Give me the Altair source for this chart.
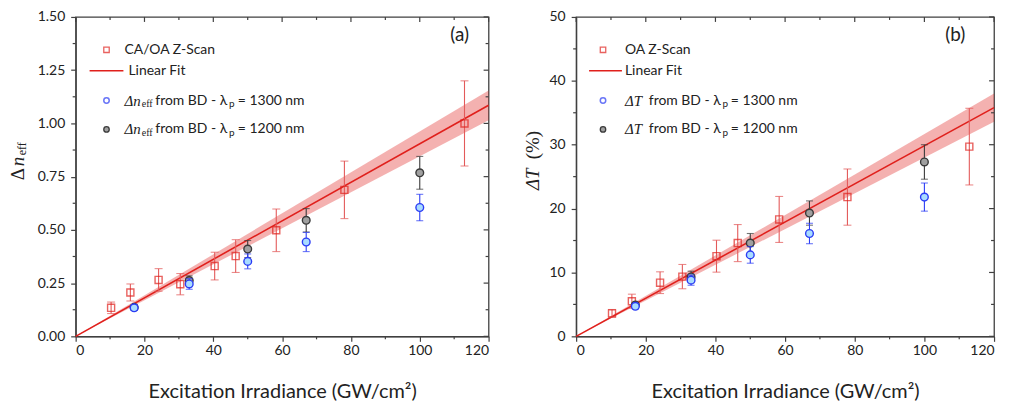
import altair as alt
import pandas as pd

# ---------------- data: panel (a) ----------------
a_zs_x = [10.3, 15.9, 24.1, 30.4, 40.4, 46.5, 58.3, 78.1, 113.0]
a_zs_y = [0.134, 0.206, 0.265, 0.245, 0.330, 0.377, 0.498, 0.688, 1.000]
a_zs_err = [0.027, 0.040, 0.053, 0.050, 0.065, 0.077, 0.100, 0.135, 0.200]
a_bd_x = [17.0, 33.0, 50.0, 67.0, 100.0]
a_b1300_y = [0.134, 0.246, 0.352, 0.443, 0.605]
a_b1300_err = [0.012, 0.025, 0.035, 0.045, 0.062]
a_b1200_y = [0.136, 0.262, 0.410, 0.545, 0.768]
a_b1200_err = [0.012, 0.022, 0.040, 0.055, 0.077]
a_fit_x = [0, 120]
a_fit_y = [0.0, 1.085]
a_band_half = [0.0, 0.070]

# ---------------- data: panel (b) ----------------
b_zs_x = [10.3, 16.0, 24.1, 30.5, 40.3, 46.4, 58.3, 77.9, 112.9]
b_zs_y = [3.6, 5.5, 8.4, 9.35, 12.55, 14.6, 18.3, 21.8, 29.7]
b_zs_err = [0.6, 1.1, 1.7, 1.9, 2.5, 2.9, 3.6, 4.4, 6.0]
b_bd_x = [17.0, 33.0, 50.0, 67.0, 100.0]
b_b1300_y = [4.7, 8.8, 12.75, 16.1, 21.8]
b_b1300_err = [0.4, 0.8, 1.3, 1.6, 2.2]
b_b1200_y = [4.9, 9.3, 14.6, 19.3, 27.3]
b_b1200_err = [0.4, 0.9, 1.5, 1.9, 2.7]
b_fit_x = [0, 120]
b_fit_y = [0.0, 35.8]
b_band_half = [0.0, 2.2]

# ---------------- axis ticks ----------------
x_major = [0, 20, 40, 60, 80, 100, 120]
x_minor = [10, 30, 50, 70, 90, 110]
a_y_major = [0.0, 0.25, 0.5, 0.75, 1.0, 1.25, 1.5]
a_y_minor = [0.125, 0.375, 0.625, 0.875, 1.125, 1.375]
b_y_major = [0, 10, 20, 30, 40, 50]
b_y_minor = [5, 15, 25, 35, 45]

SANS = "Lato"
SERIF = "Liberation Serif"
RED = "#e0201c"
RED_ERR = "#e35a5a"
BLUE = "#2b3cf5"
BLUE_FILL = "#a9dcff"
GRAY_FILL = "#a0a0a0"
GRAY_EDGE = "#3a3a3a"
AX = "#404040"
TXT = "#222222"
H = 321


def txt(s, x, y, size=14, font=SANS, style="normal", angle=0, color=TXT):
    return alt.Chart(pd.DataFrame({"t": [s]})).mark_text(
        font=font, fontSize=size, fontStyle=style, angle=angle,
        align="left", baseline="middle", color=color
    ).encode(x=alt.value(x), y=alt.value(y), text="t:N")


def panel(W, zs_x, zs_y, zs_err, bd_x, b13_y, b13_err, b12_y, b12_err,
          fit_x, fit_y, band_half, ymax, y_major, y_minor, yfmt,
          legend_layers, title_layers):
    xs = alt.Scale(domain=[0, 120], nice=False)
    ys = alt.Scale(domain=[0, ymax], nice=False)
    AXX = alt.Axis(values=x_major, title="Excitation Irradiance (GW/cm²)", format="d")
    AXY = alt.Axis(values=y_major, title=None, format=yfmt)

    def X(f):
        return alt.X(f, scale=xs, axis=AXX)

    def Y(f):
        return alt.Y(f, scale=ys, axis=AXY)

    def frame(vals, err):
        return pd.DataFrame({"x": vals[0], "y": vals[1],
                             "lo": [a - b for a, b in zip(vals[1], err)],
                             "hi": [a + b for a, b in zip(vals[1], err)]})

    fit = frame((fit_x, fit_y), band_half)
    zs = frame((zs_x, zs_y), zs_err)
    b13 = frame((bd_x, b13_y), b13_err)
    b12 = frame((bd_x, b12_y), b12_err)

    band = alt.Chart(fit).mark_area(color=RED, opacity=0.35).encode(
        x=X("x:Q"), y=Y("lo:Q"), y2="hi:Q")
    line = alt.Chart(fit).mark_line(color=RED, strokeWidth=1.6).encode(
        x=X("x:Q"), y=Y("y:Q"))

    def errs(df, color, cap):
        r = alt.Chart(df).mark_rule(color=color, strokeWidth=1.1).encode(
            x=X("x:Q"), y=Y("lo:Q"), y2="hi:Q")
        t1 = alt.Chart(df).mark_tick(color=color, size=cap, thickness=1.1,
                                     orient="horizontal").encode(
            x=X("x:Q"), y=Y("lo:Q"))
        t2 = alt.Chart(df).mark_tick(color=color, size=cap, thickness=1.1,
                                     orient="horizontal").encode(
            x=X("x:Q"), y=Y("hi:Q"))
        return [r, t1, t2]

    zs_pts = alt.Chart(zs).mark_point(shape="square", size=50, filled=False,
                                      color=RED, strokeWidth=1.4).encode(
        x=X("x:Q"), y=Y("y:Q"))
    b12_pts = alt.Chart(b12).mark_point(shape="circle", size=60, filled=True,
                                        fill=GRAY_FILL, stroke=GRAY_EDGE,
                                        strokeWidth=1.4, opacity=1).encode(
        x=X("x:Q"), y=Y("y:Q"))
    b13_pts = alt.Chart(b13).mark_point(shape="circle", size=60, filled=True,
                                        fill=BLUE_FILL, stroke=BLUE,
                                        strokeWidth=1.4, opacity=1).encode(
        x=X("x:Q"), y=Y("y:Q"))

    # minor / mirrored ticks
    xmin_df = pd.DataFrame({"x": x_minor})
    xmaj_df = pd.DataFrame({"x": x_major})
    ymin_df = pd.DataFrame({"y": y_minor})
    ymaj_df = pd.DataFrame({"y": y_major})
    ticks = [
        alt.Chart(xmin_df).mark_rule(color=AX, strokeWidth=1.2).encode(
            x=X("x:Q"), y=alt.value(H), y2=alt.value(H + 3)),
        alt.Chart(xmin_df).mark_rule(color=AX, strokeWidth=1.2).encode(
            x=X("x:Q"), y=alt.value(0), y2=alt.value(3)),
        alt.Chart(xmaj_df).mark_rule(color=AX, strokeWidth=1.2).encode(
            x=X("x:Q"), y=alt.value(0), y2=alt.value(5)),
        alt.Chart(ymin_df).mark_rule(color=AX, strokeWidth=1.2).encode(
            y=Y("y:Q"), x=alt.value(0), x2=alt.value(-3)),
        alt.Chart(ymin_df).mark_rule(color=AX, strokeWidth=1.2).encode(
            y=Y("y:Q"), x=alt.value(W), x2=alt.value(W - 3)),
        alt.Chart(ymaj_df).mark_rule(color=AX, strokeWidth=1.2).encode(
            y=Y("y:Q"), x=alt.value(W), x2=alt.value(W - 5)),
    ]

    layers = ([band, line] + errs(zs, RED_ERR, 8) + [zs_pts]
              + errs(b12, GRAY_EDGE, 7) + [b12_pts]
              + errs(b13, BLUE, 7) + [b13_pts]
              + ticks + legend_layers + title_layers)
    return alt.layer(*layers).properties(width=W, height=H)


def one():
    return pd.DataFrame({"k": [0]})


def legend(sx, lx0, lx1, ytxt_x, line_txt_x, first_label, delta_sym, pieces):
    (d_x, sub_x, from_x, p_x, eq_x) = pieces
    rows = [33, 54, 84, 113]
    L = []
    L.append(alt.Chart(one()).mark_point(shape="square", size=30, filled=False,
                                         color=RED, strokeWidth=1.3).encode(
        x=alt.value(sx), y=alt.value(rows[0])))
    L.append(txt(first_label, ytxt_x, rows[0]))
    L.append(alt.Chart(one()).mark_rule(color=RED, strokeWidth=1.6).encode(
        x=alt.value(lx0), x2=alt.value(lx1), y=alt.value(rows[1])))
    L.append(txt("Linear Fit", line_txt_x, rows[1]))
    L.append(alt.Chart(one()).mark_point(shape="circle", size=30, filled=False,
                                         color=BLUE, strokeWidth=1.5).encode(
        x=alt.value(sx), y=alt.value(rows[2])))
    L.append(alt.Chart(one()).mark_point(shape="circle", size=30, filled=True,
                                         fill=GRAY_FILL, stroke=GRAY_EDGE,
                                         strokeWidth=1.3, opacity=1).encode(
        x=alt.value(sx), y=alt.value(rows[3])))
    for r, wl in ((rows[2], "1300"), (rows[3], "1200")):
        L.append(txt(delta_sym[0], d_x, r, size=15, font=SERIF, style="italic"))
        if delta_sym[1]:
            L.append(txt(delta_sym[1], sub_x, r + 4, size=10, font=SERIF))
        L.append(txt("from BD - λ", from_x, r))
        L.append(txt("p", p_x, r + 4, size=10))
        L.append(txt("= " + wl + " nm", eq_x, r))
    return L


WA, WB = 415, 420

legend_a = legend(31, 14, 48, 49, 53, "CA/OA Z-Scan", ("Δn", "eff"),
                  (49, 66.5, 80, 154, 163)) + [txt("(a)", 376.5, 18, size=19)]
legend_b = legend(27, 13, 46, 49, 49, "OA Z-Scan", ("ΔT", ""),
                  (49, 0, 73, 147, 155.5)) + [txt("(b)", 371, 18, size=19)]

title_a = [
    txt("Δ", -57.5, 164, size=19, font=SERIF, angle=270),
    txt("n", -57.5, 150, size=19, font=SERIF, style="italic", angle=270),
    txt("eff", -53.5, 139, size=12, font=SERIF, angle=270),
]
title_b = [
    txt("ΔT", -43.5, 174, size=19, font=SERIF, style="italic", angle=270),
    txt("(%)", -43.5, 143, size=19, font=SERIF, angle=270),
]

pa = panel(WA, a_zs_x, a_zs_y, a_zs_err, a_bd_x, a_b1300_y, a_b1300_err,
           a_b1200_y, a_b1200_err, a_fit_x, a_fit_y, a_band_half, 1.5,
           a_y_major, a_y_minor, ".2f", legend_a, title_a)
pb = panel(WB, b_zs_x, b_zs_y, b_zs_err, b_bd_x, b_b1300_y, b_b1300_err,
           b_b1200_y, b_b1200_err, b_fit_x, b_fit_y, b_band_half, 50,
           b_y_major, b_y_minor, "d", legend_b, title_b)

chart = alt.hconcat(pa, pb, spacing=30).properties(
    padding={"left": 0, "top": 0, "right": 5, "bottom": 0}
).configure_view(stroke=AX, strokeWidth=1.3).configure_axis(
    domainColor=AX, domainWidth=1.3, tickColor=AX, tickWidth=1.2, tickSize=5,
    labelFont=SANS, labelFontSize=14, labelColor=TXT, labelPadding=6,
    grid=False, titleFont=SANS, titleFontSize=20, titleFontWeight="normal",
    titleColor=TXT, titlePadding=24
).configure_axisX(labelPadding=2)

chart.save("out.html", embed_options={"renderer": "svg", "actions": False})
